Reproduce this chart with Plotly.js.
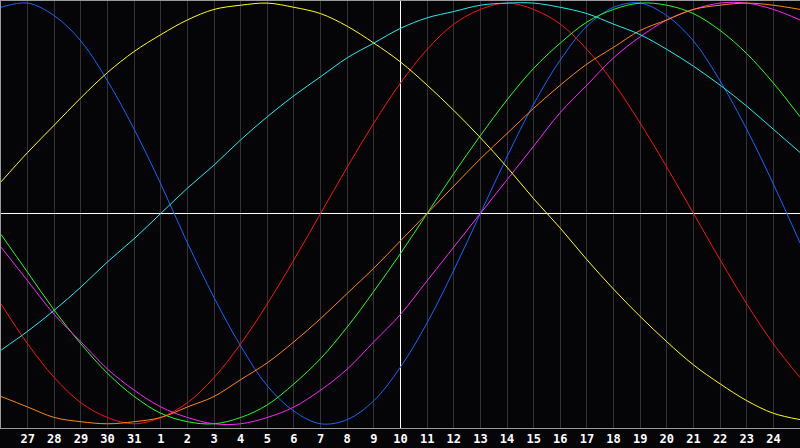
<!DOCTYPE html>
<html>
<head>
<meta charset="utf-8">
<script src="https://cdn.plot.ly/plotly-3.0.1.min.js"></script>
<style>
  html, body { margin: 0; padding: 0; background: #050508; }
  #chart { width: 800px; height: 448px; }
</style>
</head>
<body>
<div id="chart"></div>
<script>
// days relative to today (0 = the 10th)
var days = [-15, -14, -13, -12, -11, -10, -9, -8, -7, -6, -5, -4, -3, -2, -1, 0,
            1, 2, 3, 4, 5, 6, 7, 8, 9, 10, 11, 12, 13, 14, 15];

var tickDays = [-14, -13, -12, -11, -10, -9, -8, -7, -6, -5, -4, -3, -2, -1, 0,
                1, 2, 3, 4, 5, 6, 7, 8, 9, 10, 11, 12, 13, 14];
var tickLabels = ['27', '28', '29', '30', '31', '1', '2', '3', '4', '5', '6', '7', '8', '9', '10',
                  '11', '12', '13', '14', '15', '16', '17', '18', '19', '20', '21', '22', '23', '24'];

// values, one per day
var physical = [0.98, 1.00, 0.94, 0.82, 0.63, 0.40, 0.14, -0.14, -0.40, -0.63, -0.82, -0.94, -1.00, -0.98, -0.89, -0.73,
                -0.52, -0.27, 0, 0.27, 0.52, 0.73, 0.89, 0.98, 1.00, 0.94, 0.82, 0.63, 0.40, 0.14, -0.14];
var emotional = [-0.43, -0.62, -0.78, -0.90, -0.97, -1.00, -0.97, -0.90, -0.78, -0.62, -0.43, -0.22, 0, 0.22, 0.43, 0.62,
                 0.78, 0.90, 0.97, 1.00, 0.97, 0.90, 0.78, 0.62, 0.43, 0.22, 0, -0.22, -0.43, -0.62, -0.78];
var intellectual = [-0.10, -0.28, -0.46, -0.62, -0.76, -0.87, -0.95, -0.99, -1.00, -0.97, -0.91, -0.81, -0.69, -0.54, -0.37, -0.19,
                    0, 0.19, 0.37, 0.54, 0.69, 0.81, 0.91, 0.97, 1.00, 0.99, 0.95, 0.87, 0.76, 0.62, 0.46];
var intuitive = [-0.16, -0.32, -0.48, -0.61, -0.74, -0.84, -0.92, -0.97, -1.00, -1.00, -0.97, -0.92, -0.84, -0.74, -0.61, -0.48,
                 -0.32, -0.16, 0, 0.16, 0.32, 0.48, 0.61, 0.74, 0.84, 0.92, 0.97, 1.00, 1.00, 0.97, 0.92];
var aesthetic = [0.15, 0.29, 0.42, 0.55, 0.67, 0.77, 0.85, 0.92, 0.97, 0.99, 1.00, 0.98, 0.95, 0.89, 0.81, 0.72,
                 0.61, 0.49, 0.36, 0.22, 0.07, -0.07, -0.22, -0.36, -0.49, -0.61, -0.72, -0.81, -0.89, -0.95, -0.98];
var awareness = [-0.87, -0.92, -0.97, -0.99, -1.00, -0.99, -0.97, -0.92, -0.87, -0.79, -0.71, -0.61, -0.50, -0.38, -0.26, -0.13,
                 0, 0.13, 0.26, 0.38, 0.50, 0.61, 0.71, 0.79, 0.87, 0.92, 0.97, 0.99, 1.00, 0.99, 0.97];
var spiritual = [-0.65, -0.56, -0.46, -0.35, -0.23, -0.12, 0, 0.12, 0.23, 0.35, 0.46, 0.56, 0.65, 0.74, 0.81, 0.88,
                 0.93, 0.96, 0.99, 1.00, 1.00, 0.98, 0.95, 0.90, 0.85, 0.78, 0.70, 0.61, 0.51, 0.40, 0.29];

function cycle(name, values, color) {
  return {
    type: 'scatter',
    mode: 'lines',
    name: name,
    x: days,
    y: values,
    line: {color: color, width: 1, shape: 'spline'},
    hoverinfo: 'skip'
  };
}

var traces = [
  cycle('Physical', physical, '#1166ff'),
  cycle('Emotional', emotional, '#ff1010'),
  cycle('Intellectual', intellectual, '#22ff22'),
  cycle('Intuitive', intuitive, '#ff22ff'),
  cycle('Aesthetic', aesthetic, '#ffff11'),
  cycle('Awareness', awareness, '#ff8811'),
  cycle('Spiritual', spiritual, '#22eeee')
];

// zerolines give the white "today" marker and the white middle line
var layout = {
  width: 800,
  height: 448,
  margin: {l: 1, r: 0, t: 1, b: 20},
  paper_bgcolor: '#050508',
  plot_bgcolor: '#050508',
  showlegend: false,
  xaxis: {
    range: [-15, 15],
    tickmode: 'array',
    tickvals: tickDays,
    ticktext: tickLabels,
    ticks: '',
    showgrid: true,
    gridcolor: '#333336',
    gridwidth: 1,
    zeroline: true,
    zerolinecolor: '#ffffff',
    zerolinewidth: 1,
    showline: true,
    linecolor: '#9a9a9a',
    linewidth: 1,
    mirror: true,
    tickfont: {family: 'DejaVu Sans Mono', size: 12, color: '#ffffff', weight: 'bold'},
    fixedrange: true
  },
  yaxis: {
    range: [-1.02, 1.01],
    showticklabels: false,
    ticks: '',
    showgrid: false,
    zeroline: true,
    zerolinecolor: '#ffffff',
    zerolinewidth: 1,
    showline: true,
    linecolor: '#9a9a9a',
    linewidth: 1,
    fixedrange: true
  }
};

Plotly.newPlot('chart', traces, layout, {staticPlot: true, displayModeBar: false});
</script>
</body>
</html>
